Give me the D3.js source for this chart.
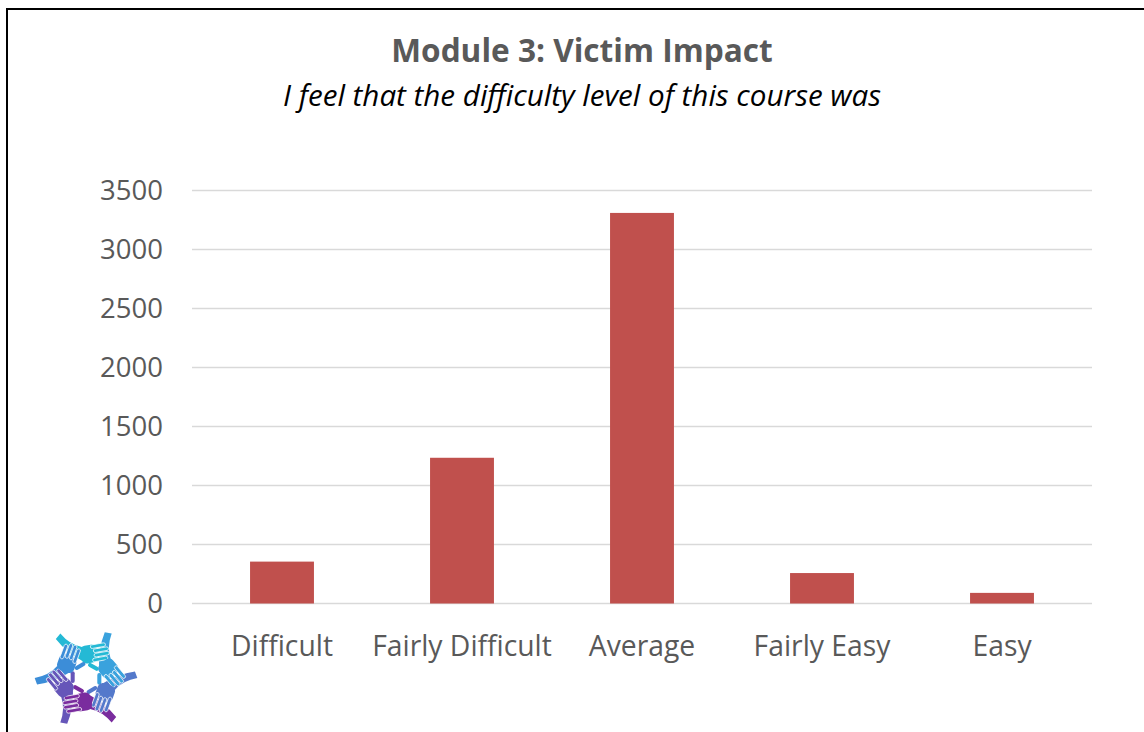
<!DOCTYPE html>
<html>
<head>
<meta charset="utf-8">
<script src="https://cdn.jsdelivr.net/npm/d3@7"></script>
<style>
  body { margin: 0; background: #fff; }
  svg { display: block; }
</style>
</head>
<body>
<div id="chart"></div>
<script>
// data
var categories = ["Difficult", "Fairly Difficult", "Average", "Fairly Easy", "Easy"];
var counts = [355, 1235, 3310, 258, 90];
var yTicks = [0, 500, 1000, 1500, 2000, 2500, 3000, 3500];

var width = 1144, height = 732;
var plot = {left: 192, right: 1092, top: 190.5, bottom: 603.5};
var font = "'Open Sans', Lato, sans-serif";

var svg = d3.select("#chart").append("svg")
    .attr("width", width)
    .attr("height", height);

// frame (only left and top edges visible)
svg.append("rect")
    .attr("x", 7).attr("y", 9)
    .attr("width", 1200).attr("height", 800)
    .attr("fill", "none")
    .attr("stroke", "#000")
    .attr("stroke-width", 2);

var x = d3.scaleBand()
    .domain(categories)
    .range([plot.left, plot.right])
    .paddingInner(0.645)
    .paddingOuter(0.3225);

var y = d3.scaleLinear()
    .domain([0, 3500])
    .range([plot.bottom, plot.top]);

// gridlines
svg.append("g")
    .selectAll("line")
    .data(yTicks)
    .join("line")
    .attr("x1", plot.left)
    .attr("x2", plot.right)
    .attr("y1", d => y(d))
    .attr("y2", d => y(d))
    .attr("stroke", "#d9d9d9")
    .attr("stroke-width", 1.5);

// y axis labels
var yAxis = svg.append("g")
    .attr("transform", "translate(" + plot.left + ",0)")
    .call(d3.axisLeft(y).tickValues(yTicks).tickFormat(d3.format("d")).tickSize(0).tickPadding(29));
yAxis.select(".domain").remove();
yAxis.selectAll("text")
    .attr("font-family", font)
    .attr("font-size", "27.5px")
    .attr("fill", "#595959");

// bars
svg.append("g")
    .selectAll("rect")
    .data(counts)
    .join("rect")
    .attr("x", (d, i) => x(categories[i]))
    .attr("y", d => y(d))
    .attr("width", x.bandwidth())
    .attr("height", d => y(0) - y(d))
    .attr("fill", "#C0504D");

// x axis labels
var xAxis = svg.append("g")
    .attr("transform", "translate(0," + plot.bottom + ")")
    .call(d3.axisBottom(x).tickSize(0).tickPadding(32));
xAxis.select(".domain").remove();
xAxis.selectAll("text")
    .attr("font-family", font)
    .attr("font-size", "28.3px")
    .attr("fill", "#595959");

// titles
svg.append("text")
    .attr("x", 582).attr("y", 62)
    .attr("text-anchor", "middle")
    .attr("font-family", font)
    .attr("font-size", "31.6px")
    .attr("font-weight", "bold")
    .attr("fill", "#595959")
    .text("Module 3: Victim Impact");

svg.append("text")
    .attr("x", 582).attr("y", 106)
    .attr("text-anchor", "middle")
    .attr("font-family", font)
    .attr("font-size", "29.6px")
    .attr("font-style", "italic")
    .attr("fill", "#000")
    .text("I feel that the difficulty level of this course was");

// logo: six hands in a pinwheel ring (arms first, hands on top)
var logo = svg.append("g").attr("transform", "translate(86,678) scale(0.9)");
var handColors = ["#24B9D5", "#3AA2DD", "#5479CB", "#7A2C9E", "#6656B9", "#3C8DD8"];
var place = (i) => "rotate(" + (i * 60) + ") translate(0,-26) rotate(80)";

handColors.forEach(function(c, i) {
  logo.append("path")
      .attr("transform", place(i))
      .attr("fill", c)
      .attr("d", "M-9,3 Q-14,16 -28,24 L-23,30 Q-6,21 8,3 Z");
});

handColors.forEach(function(c, i) {
  var h = logo.append("g")
      .attr("transform", place(i))
      .attr("fill", c);
  h.append("rect").attr("x", -10).attr("y", -13).attr("width", 20).attr("height", 19).attr("rx", 6);
  [-7.5, -2.5, 2.5, 7.5].forEach(function(fx, k) {
    h.append("rect")
        .attr("x", fx - 2).attr("y", -27 + Math.abs(k - 1.5) * 2.5)
        .attr("width", 4).attr("height", 17)
        .attr("rx", 2)
        .attr("stroke", "#fff").attr("stroke-width", 0.8);
  });
  h.append("rect")
      .attr("x", -2.2).attr("y", -14).attr("width", 4.5).attr("height", 13).attr("rx", 2.2)
      .attr("transform", "translate(10,0) rotate(40)");
});
</script>
</body>
</html>
